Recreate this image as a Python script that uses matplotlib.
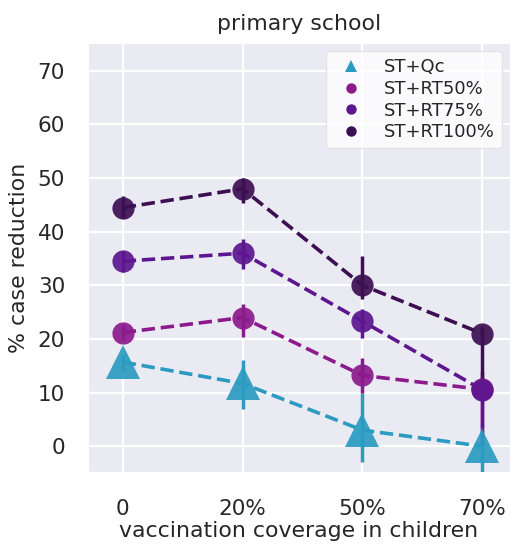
import matplotlib
matplotlib.use("Agg")
import matplotlib.pyplot as plt
import seaborn as sns
from matplotlib.lines import Line2D

sns.set_style("darkgrid")
plt.rcParams["font.family"] = ["DejaVu Sans"]

coverage = ["0", "20%", "50%", "70%"]
series = ["ST+Qc", "ST+RT50%", "ST+RT75%", "ST+RT100%"]
colors = ["#2b9bc2", "#8c1a8c", "#5d168f", "#3c0f52"]
markers = ["^", "o", "o", "o"]
marker_sizes = [25, 16, 16, 16]

means = {
    "ST+Qc":     [15.7, 11.7, 3.0, 0.0],
    "ST+RT50%":  [21.2, 24.0, 13.2, 10.6],
    "ST+RT75%":  [34.5, 36.0, 23.3, 10.5],
    "ST+RT100%": [44.5, 48.0, 30.0, 21.0],
}
lower = {
    "ST+Qc":     [14.0, 6.9, -3.0, -5.0],
    "ST+RT50%":  [19.8, 20.3, 9.9, 0.2],
    "ST+RT75%":  [32.4, 33.1, 20.1, 3.6],
    "ST+RT100%": [42.5, 45.4, 27.5, 11.3],
}
upper = {
    "ST+Qc":     [17.0, 16.0, 9.9, 4.0],
    "ST+RT50%":  [22.6, 26.6, 16.5, 14.0],
    "ST+RT75%":  [36.5, 38.6, 25.6, 13.0],
    "ST+RT100%": [46.6, 50.0, 35.5, 22.5],
}

fig = plt.figure(figsize=(5.13, 5.44), dpi=100)
ax = fig.add_axes([0.1715, 0.1324, 0.8225, 0.7886])

x = list(range(len(coverage)))
for name, c, m, ms in zip(series, colors, markers, marker_sizes):
    y = means[name]
    lo = [v - l for v, l in zip(y, lower[name])]
    hi = [u - v for v, u in zip(y, upper[name])]
    ax.errorbar(x, y, yerr=[lo, hi], fmt="none", ecolor=c, elinewidth=2.5,
                capsize=0, zorder=2)
    ax.plot(x, y, linestyle="--", color=c, linewidth=2.6, zorder=3)
    ax.plot(x, y, linestyle="none", marker=m, markersize=ms, color=c,
            markeredgewidth=0, alpha=0.92, zorder=4)

ax.set_xticks(x)
ax.set_xticklabels(coverage)
ax.set_xlim(-0.29, 3.23)
ax.set_ylim(-4.8, 75.2)
ax.set_yticks([0, 10, 20, 30, 40, 50, 60, 70])
ax.tick_params(axis="x", labelsize=15.5, colors="#262626", pad=16)
ax.tick_params(axis="y", labelsize=15.5, colors="#262626", pad=13)
ax.grid(color="white", linewidth=1.6)

ax.set_title("primary school", fontsize=15.8, color="#262626", pad=9)
ax.set_xlabel("vaccination coverage in children", fontsize=15.8,
              color="#262626", labelpad=1.5)
ax.set_ylabel("% case reduction", fontsize=15.8, color="#262626", labelpad=6)

handles = [Line2D([], [], linestyle="none", marker=m, color=c,
                  markersize=7.5 if m == "o" else 9, markeredgewidth=0)
           for m, c in zip(markers, colors)]
leg = ax.legend(handles, series, loc="upper right", fontsize=13,
                frameon=True, borderpad=0.4, labelspacing=0.2,
                handletextpad=0.8, borderaxespad=0.45)
leg.get_frame().set_facecolor("white")
leg.get_frame().set_alpha(0.8)
leg.get_frame().set_edgecolor("#e0e0e0")
for t in leg.get_texts():
    t.set_color("#262626")

fig.savefig("out.png", dpi=100)
